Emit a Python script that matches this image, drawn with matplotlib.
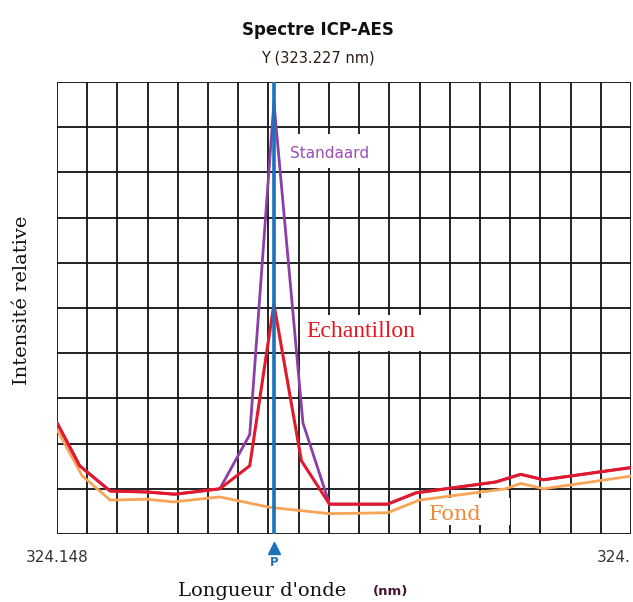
import matplotlib
matplotlib.use("Agg")
import matplotlib.pyplot as plt
from matplotlib.patches import Rectangle

# ---- data (grid units: x 0..19, y 0..10) ----
x_std = [0, 0.75, 1.76, 2.97, 3.9, 5.39, 6.38, 7.18, 8.14, 9.02, 10.94, 11.88, 14.52, 15.35, 16.11, 19]
y_std = [2.46, 1.51, 0.95, 0.93, 0.88, 1.0, 2.2, 9.55, 2.46, 0.66, 0.66, 0.91, 1.15, 1.32, 1.2, 1.47]

x_ech = [0, 0.75, 1.76, 2.97, 3.9, 5.39, 6.38, 7.18, 8.09, 9.02, 10.94, 11.88, 14.52, 15.35, 16.11, 19]
y_ech = [2.46, 1.51, 0.95, 0.93, 0.88, 1.0, 1.51, 5.09, 1.62, 0.66, 0.66, 0.91, 1.15, 1.32, 1.2, 1.47]

x_fond = [0, 0.83, 1.76, 2.97, 3.85, 5.39, 7.04, 9.02, 10.94, 11.99, 14.85, 15.35, 16.11, 19]
y_fond = [2.31, 1.29, 0.75, 0.77, 0.71, 0.82, 0.59, 0.45, 0.47, 0.75, 1.0, 1.12, 1.0, 1.28]

peak_x = 7.18
tick_labels = ["324.148", "324."]

W, H = 633, 602
fig = plt.figure(figsize=(W / 100, H / 100), dpi=100)
ax = fig.add_axes([57 / W, (H - 534) / H, (631 - 57) / W, (534 - 82) / H])
ax.set_xlim(0, 19)
ax.set_ylim(0, 10)

# grid
for gx in range(0, 20):
    ax.axvline(gx, color="#111111", lw=1.3, zorder=1)
for gy in range(0, 11):
    ax.axhline(gy, color="#111111", lw=1.3, zorder=1)
for s in ax.spines.values():
    s.set_visible(False)
ax.set_xticks([])
ax.set_yticks([])

# white label boxes over the grid
ax.add_patch(Rectangle((12.25, 0.2), 2.75, 0.6, facecolor="white", edgecolor="none", zorder=2))
ax.add_patch(Rectangle((7.65, 8.1), 2.85, 0.75, facecolor="white", edgecolor="none", zorder=2))
ax.add_patch(Rectangle((8.2, 4.05), 4.0, 0.8, facecolor="white", edgecolor="none", zorder=2))

# series
ax.plot(x_fond, y_fond, color="#f7a457", lw=2.0, zorder=4)
ax.plot(x_std, y_std, color="#8a3ea6", lw=2.0, zorder=5)
ax.plot(x_ech, y_ech, color="#e3182b", lw=2.2, zorder=6)
ax.axvline(peak_x, color="#1a72bb", lw=2.6, zorder=7)

# series labels
ax.text(7.72, 8.42, "Standaard", color="#9a4fb8", fontsize=11, va="center", ha="left",
        family="DejaVu Sans", zorder=8)
ax.text(8.25, 4.47, "Echantillon", color="#e8141e", fontsize=17, va="center", ha="left",
        family="Liberation Serif", zorder=8)
ax.text(12.3, 0.44, "Fond", color="#f08a3a", fontsize=15, va="center", ha="left",
        family="DejaVu Serif", zorder=8)

# titles
fig.text(318 / W, 1 - 30 / H, "Spectre ICP-AES", ha="center", va="center",
         fontsize=12, fontweight="bold", color="#111111", family="DejaVu Sans")
fig.text(318 / W, 1 - 58 / H, "Y (323.227 nm)", ha="center", va="center",
         fontsize=10.5, color="#2a1a10", family="DejaVu Sans")

# x tick labels
fig.text(57 / W, 1 - 557 / H, tick_labels[0], ha="center", va="center",
         fontsize=11, color="#333333", family="DejaVu Sans")
fig.text(597 / W, 1 - 557 / H, tick_labels[1], ha="left", va="center",
         fontsize=11, color="#333333", family="DejaVu Sans")

# peak marker
ax.plot([peak_x], [-0.3], marker="^", color="#1a72bb", markersize=9, clip_on=False, zorder=9)
ax.text(peak_x, -0.62, "P", color="#1a72bb", fontsize=8.5, fontweight="bold",
        ha="center", va="center", clip_on=False)

# axis labels
fig.text(22 / W, 1 - 300 / H, "Intensité relative", rotation=90, ha="center", va="center",
         fontsize=14, color="#111111", family="DejaVu Serif")
fig.text(262 / W, 1 - 591 / H, "Longueur d'onde", ha="center", va="center",
         fontsize=14, color="#111111", family="DejaVu Serif")
fig.text(391 / W, 1 - 591 / H, "(nm)", ha="center", va="center",
         fontsize=9.5, fontweight="bold", color="#4a1530", family="DejaVu Sans")

fig.savefig("out.png", dpi=100, facecolor="white")
